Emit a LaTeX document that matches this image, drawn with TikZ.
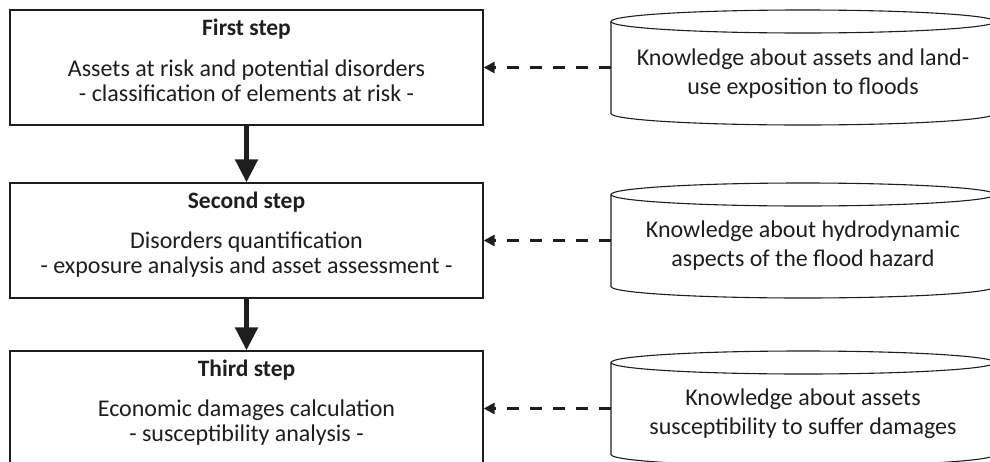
\documentclass[tikz,border=0pt]{standalone}
\usepackage{fontspec}
\setmainfont{Carlito}
\usetikzlibrary{arrows.meta}
\definecolor{ink}{HTML}{1E1E1E}
\begin{document}
\begin{tikzpicture}[x=1pt,y=-1pt,
  stepbox/.style={draw=ink,line width=1.3pt,minimum width=473pt,minimum height=115pt,inner sep=0pt},
  steptitle/.style={anchor=base,inner sep=0pt,text=ink,font=\fontsize{23.5}{25}\selectfont\bfseries},
  stepline/.style={anchor=base,inner sep=0pt,text=ink,font=\fontsize{24}{25}\selectfont},
  kbnode/.style={minimum width=384pt,minimum height=115pt,inner sep=0pt},
  kbline/.style={anchor=base,inner sep=0pt,text=ink,font=\fontsize{24}{28}\selectfont},
  cyl/.style={draw=ink,line width=1.1pt},
  flowarrow/.style={draw=ink,line width=5pt,-{Triangle[width=22pt,length=23pt]}},
  feedarrow/.style={draw=ink,line width=3pt,dash pattern=on 12pt off 11pt,
    -{Triangle[width=11pt,length=11pt]}}
]
\useasboundingbox (0,0) rectangle (990,461);
\clip (0,0) rectangle (990,461);

% the three steps (tops at 10, 183 and 351)
\node[stepbox] (s1) at (246.5,67.5) {};
\node[stepbox] (s2) at (246.5,240.5) {};
\node[stepbox] (s3) at (246.5,408.5) {};

\node[steptitle] (s1t) at (246.5,35) {First step};
\node[stepline] (s1a) at (246.5,76) {Assets at risk and potential disorders};
\node[stepline] (s1b) at (246.5,101) {- classification of elements at risk -};

\node[steptitle] (s2t) at (246.5,208) {Second step};
\node[stepline] (s2a) at (246.5,248) {Disorders quantification};
\node[stepline] (s2b) at (246.5,273) {- exposure analysis and asset assessment -};

\node[steptitle] (s3t) at (246.5,376) {Third step};
\node[stepline] (s3a) at (246.5,416) {Economic damages calculation};
\node[stepline] (s3b) at (246.5,441) {- susceptibility analysis -};

% knowledge stores drawn as cylinders
\foreach \t in {10,183,351}{
  \draw[cyl] (803,{\t+11.5}) ellipse[x radius=192pt,y radius=11.5pt];
  \draw[cyl] (611,{\t+11.5}) -- (611,{\t+103.5})
    arc[start angle=180,end angle=360,x radius=192pt,y radius=11.5pt] -- (995,{\t+11.5});
}
\node[kbnode] (k1) at (803,67.5) {};
\node[kbnode] (k2) at (803,240.5) {};
\node[kbnode] (k3) at (803,408.5) {};

\node[kbline] (k1a) at (803,65) {Knowledge about assets and land-};
\node[kbline] (k1b) at (803,94) {use exposition to floods};
\node[kbline] (k2a) at (803,237) {Knowledge about hydrodynamic};
\node[kbline] (k2b) at (803,266) {aspects of the flood hazard};
\node[kbline] (k3a) at (803,405) {Knowledge about assets};
\node[kbline] (k3b) at (803,434) {susceptibility to suffer damages};

% connectors
\draw[flowarrow] (s1.south) -- (s2.north);
\draw[flowarrow] (s2.south) -- (s3.north);
\draw[feedarrow] (k1.west) -- (s1.east);
\draw[feedarrow] (k2.west) -- (s2.east);
\draw[feedarrow] (k3.west) -- (s3.east);
\end{tikzpicture}
\end{document}
